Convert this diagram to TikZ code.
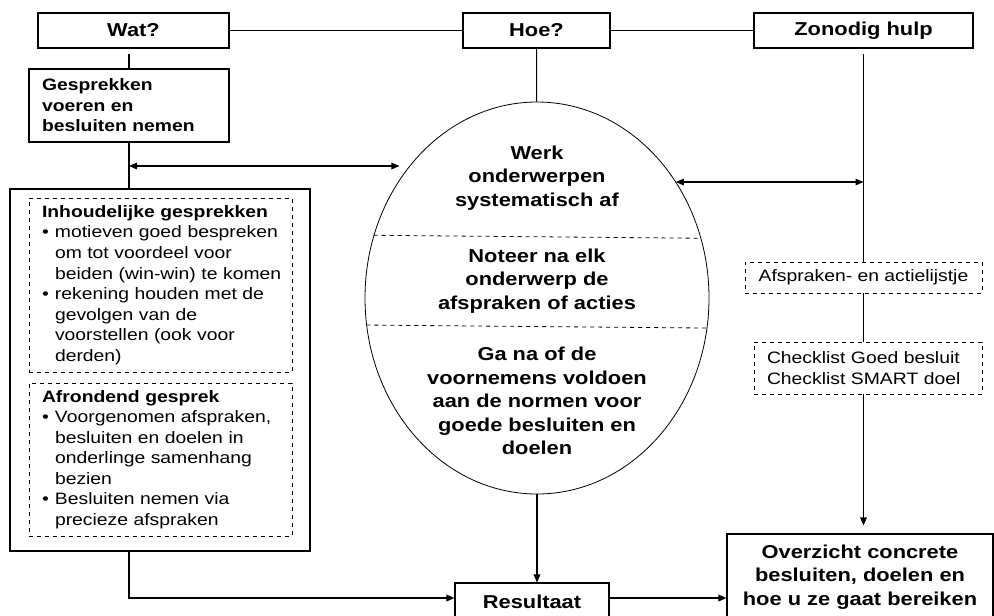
\documentclass[tikz,border=0pt]{standalone}
\usepackage{fontspec}
\setmainfont[FakeStretch=1.17]{Liberation Sans}
\usepackage{tikz}
\usetikzlibrary{shapes.geometric,arrows.meta}

\newcommand{\kop}{\fontsize{14}{16}\selectfont\bfseries}
\newcommand{\groot}{\fontsize{14}{17.6}\selectfont\bfseries}
\newcommand{\klein}{\fontsize{12.4}{15.4}\selectfont}
\newcommand{\bul}[1]{\mbox{\makebox[9.75pt][l]{\textbullet}#1}}
\newcommand{\ind}[1]{\mbox{\hspace*{9.75pt}#1}}

\begin{document}
\begin{tikzpicture}[x=0.75pt,y=-0.75pt,line width=0.8pt,
  >={Triangle[length=6pt,width=5pt]},
  box/.style={draw,rectangle,inner sep=0pt},
  dbox/.style={draw,dashed,line width=0.6pt,rectangle,inner xsep=9.75pt,inner ysep=0pt}]
\path[use as bounding box,fill=white] (0,0) rectangle (994,615);
\clip (0,0) rectangle (994,615);
\node[box,font=\kop,minimum width=143.25pt,minimum height=26.25pt] (wat) at (133.5,30.5) {Wat?};
\node[box,font=\kop,minimum width=110.25pt,minimum height=26.25pt] (hoe) at (536.5,30.5) {Hoe?};
\node[box,font=\kop,minimum width=164.25pt,minimum height=26.25pt] (hulp) at (863.5,30.5) {Zonodig hulp};
\node[box,font=\klein\bfseries,inner xsep=9.75pt,text width=130.5pt,minimum height=54.75pt,align=left] (gesp) at (129,105.5) {Gesprekken\\voeren en\\besluiten nemen};
\node[box,minimum width=225pt,minimum height=271.5pt] (big) at (160,370) {};
\node[dbox,font=\klein,text width=177.75pt,minimum height=130.5pt,align=left] (inh) at (160.5,285) {\textbf{Inhoudelijke gesprekken}\\\bul{motieven goed bespreken}\\\ind{om tot voordeel voor}\\\ind{beiden (win-win) te komen}\\\bul{rekening houden met de}\\\ind{gevolgen van de}\\\ind{voorstellen (ook voor}\\\ind{derden)}};
\node[dbox,font=\klein,text width=177.75pt,minimum height=114.75pt,align=left] (afr) at (160.5,459.5) {\textbf{Afrondend gesprek}\\\bul{Voorgenomen afspraken,}\\\ind{besluiten en doelen in}\\\ind{onderlinge samenhang}\\\ind{bezien}\\\bul{Besluiten nemen via}\\\ind{precieze afspraken}};
\node[ellipse,draw,line width=0.6pt,minimum width=258pt,minimum height=294pt,inner sep=0pt] (ell) at (537,298) {};
\node[font=\groot,align=center] (e_1) at (537,178) {Werk\\onderwerpen\\systematisch af};
\node[font=\groot,align=center] (e_2) at (537,281) {Noteer na elk\\onderwerp de\\afspraken of acties};
\node[font=\groot,align=center] (e_3) at (537,401) {Ga na of de\\voornemens voldoen\\aan de normen voor\\goede besluiten en\\doelen};
\node[box,font=\groot,minimum width=115.5pt,minimum height=28.5pt] (res) at (532,602) {Resultaat};
\node[box,font=\groot,minimum width=199.5pt,minimum height=64.5pt,align=center] (ovz) at (860,577) {Overzicht concrete\\besluiten, doelen en\\hoe u ze gaat bereiken};
\node[dbox,font=\klein,minimum width=177.75pt,minimum height=23.25pt] (afs) at (863.5,277.5) {Afspraken- en actielijstje};
\node[dbox,font=\klein,text width=151.5pt,minimum height=39pt,align=left] (chk) at (868,368) {Checklist Goed besluit\\Checklist SMART doel};
\coordinate (jl) at (129,166);
\coordinate (jr) at (863.5,182);
% ellipse parts
\draw[dashed,line width=0.6pt] (ell.159.5) -- (ell.20.5);
\draw[dashed,line width=0.6pt] (ell.189.3) -- (ell.350.7);
% connectors
\draw (wat) -- (hoe) (hoe) -- (hulp);
\draw (hoe) -- (ell);
\draw[shorten <=3.75pt] (gesp.north |- wat.south) -- (gesp.north);
\draw (gesp.south) -- (gesp.south |- big.north);
\draw[shorten <=3.75pt] (hulp.south) -- (hulp.south |- afs.north);
\draw (hulp.south |- afs.south) -- (hulp.south |- chk.north);
\path[<->]
  (jl) edge[shorten >=7.5pt] (jl -| ell.134)
  (jr -| ell.40) edge (jr);
\path[->]
  (hulp.south |- chk.south) edge[shorten >=6pt] (hulp.south |- ovz.north)
  (ell.south) edge (ell.south |- res.north)
  ([yshift=3pt]res.east) edge ([yshift=3pt]res.east -| ovz.west);
\draw[->] (gesp.south |- big.south) |- ([yshift=3pt]res.west);
\end{tikzpicture}
\end{document}
